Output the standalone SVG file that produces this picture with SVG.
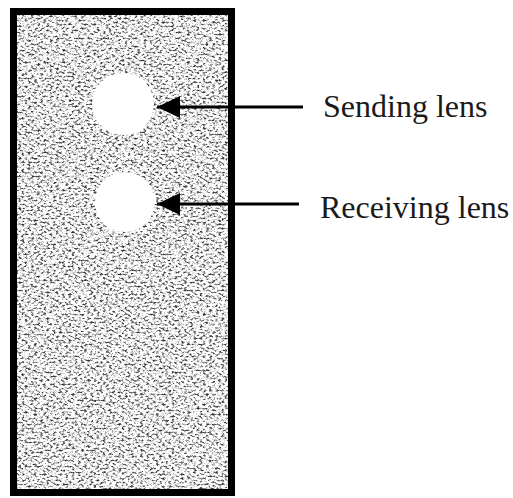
<svg xmlns="http://www.w3.org/2000/svg" width="513" height="498" viewBox="0 0 513 498">
  <style>
    .lens { fill: #ffffff; }
    .conn { stroke: #000; stroke-width: 3; fill: none; marker-end: url(#head); }
    .label { font-family: "Liberation Serif", "Times New Roman", serif; font-size: 32px; fill: #1a1a1a; }
    .frame { fill: none; stroke: #000; stroke-width: 7; }
  </style>
  <defs>
    <filter id="grain" x="0" y="0" width="100%" height="100%" color-interpolation-filters="sRGB">
      <feTurbulence type="fractalNoise" baseFrequency="0.32 0.5" numOctaves="3" seed="7" result="n"/>
      <feColorMatrix in="n" type="matrix" values="0 0 0 0 0.2  0 0 0 0 0.2  0 0 0 0 0.2  -3.4 0 0 0 1.8" result="dots"/>
      <feGaussianBlur in="dots" stdDeviation="0.45"/>
    </filter>
    <marker id="head" markerUnits="userSpaceOnUse" markerWidth="26" markerHeight="26" refX="23" refY="11" orient="auto">
      <path d="M0,0 L23,11 L0,22 Z" fill="#000"/>
    </marker>
  </defs>

  <rect width="513" height="498" fill="#ffffff"/>

  <g id="panel">
    <rect x="14" y="12" width="218" height="480" fill="#ffffff"/>
    <rect x="14" y="12" width="218" height="480" fill="#000" filter="url(#grain)"/>
    <rect class="frame" x="13.5" y="11.5" width="218" height="481"/>
  </g>

  <g id="sending-lens">
    <circle class="lens" cx="123" cy="104" r="31"/>
  </g>
  <g id="receiving-lens">
    <circle class="lens" cx="125" cy="202" r="30"/>
  </g>

  <g id="connectors">
    <line class="conn" x1="303" y1="107" x2="157" y2="107"/>
    <line class="conn" x1="299" y1="204" x2="157" y2="204"/>
  </g>

  <g id="label-sending">
    <text class="label" x="323" y="117">Sending lens</text>
  </g>
  <g id="label-receiving">
    <text class="label" x="320" y="218">Receiving lens</text>
  </g>
</svg>
